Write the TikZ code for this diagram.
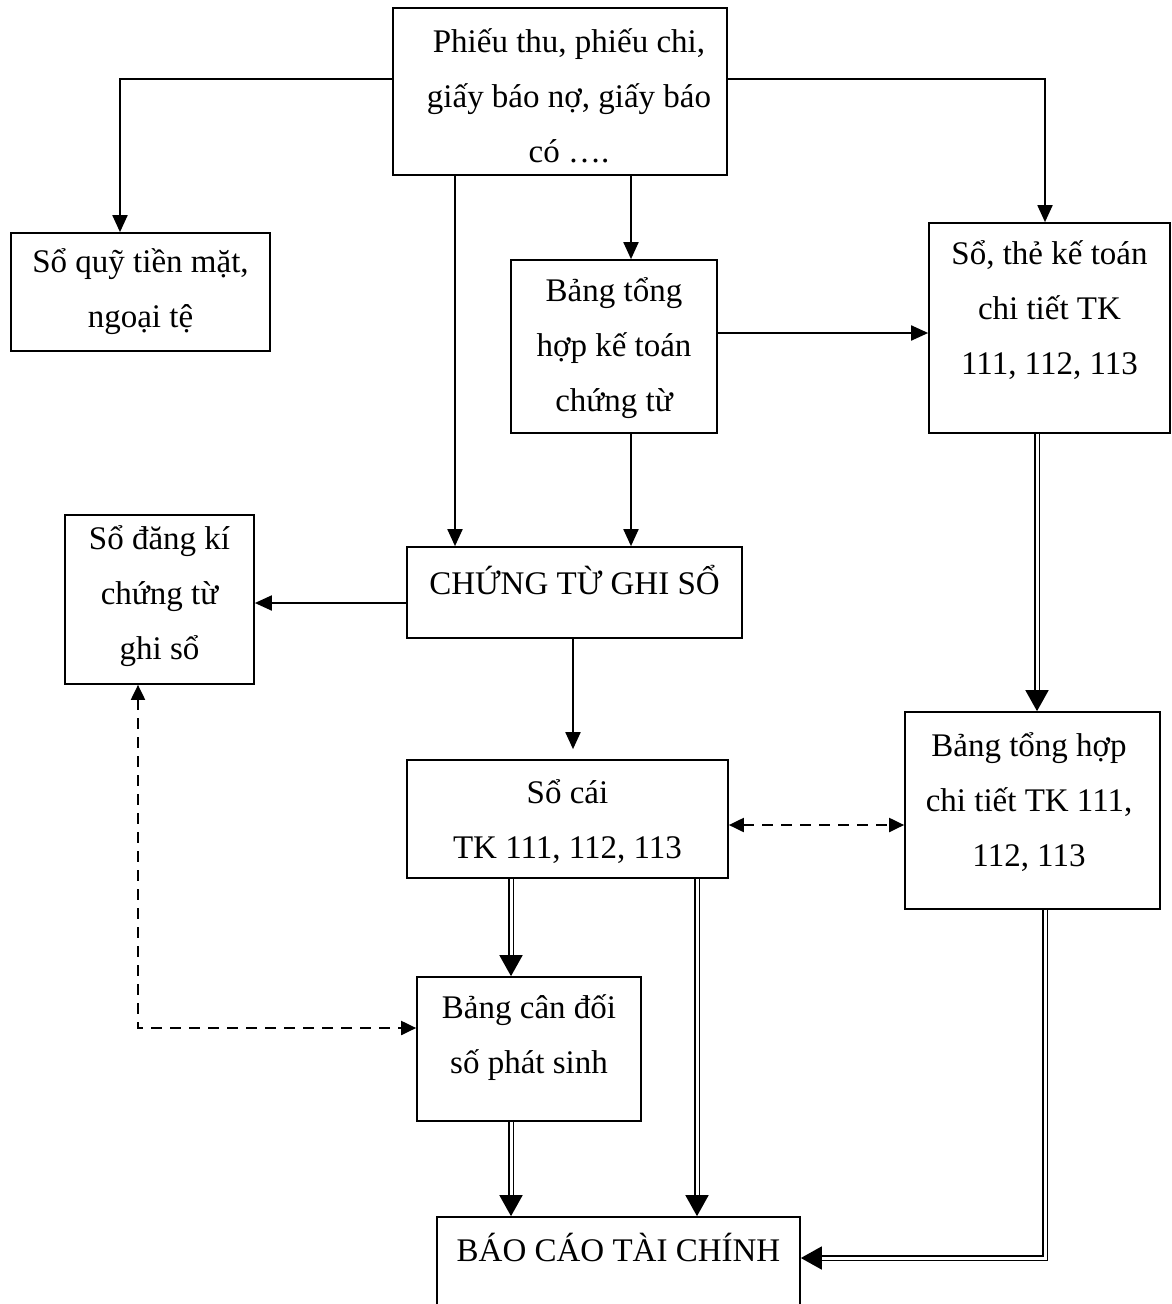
\documentclass[tikz,border=0pt]{standalone}
\usepackage{fontspec}
\setmainfont{Liberation Serif}
\usetikzlibrary{arrows.meta}
\begin{document}
\begin{tikzpicture}[x=1pt,y=-1pt,
  box/.style={draw,line width=1.7pt,inner sep=0pt},
  txt/.style={align=center,inner sep=0pt,font=\fontsize{33}{55}\selectfont},
  arr/.style={line width=1.9pt,-{Triangle[length=17pt,width=15pt]}},
  dbl/.style={double,double distance=3pt,line width=1.7pt,-{Triangle[length=21pt,width=23pt]}},
  dsh/.style={line width=2pt,dash pattern=on 11pt off 8pt,
    {Triangle[length=15pt,width=14pt]}-{Triangle[length=15pt,width=14pt]}}]
\useasboundingbox (0,0) rectangle (1171,1304);

% boxes
\node[box,minimum width=334pt,minimum height=167pt] (src) at (560,91.5) {};
\node[box,minimum width=259pt,minimum height=118pt] (quy) at (140.5,292) {};
\node[box,minimum width=206pt,minimum height=173pt] (bth) at (614,346.5) {};
\node[box,minimum width=241pt,minimum height=210pt] (ste) at (1049.5,328) {};
\node[box,minimum width=189pt,minimum height=169pt] (sdk) at (159.5,599.5) {};
\node[box,minimum width=335pt,minimum height=91pt] (cts) at (574.5,592.5) {};
\node[box,minimum width=321pt,minimum height=118pt] (sc) at (567.5,819) {};
\node[box,minimum width=255pt,minimum height=197pt] (btct) at (1032.5,810.5) {};
\node[box,minimum width=224pt,minimum height=144pt] (bcd) at (529,1049) {};
\node[box,minimum width=363pt,minimum height=113pt] (bctc) at (618.5,1273.5) {};

% texts
\node[txt] (src-t) at (569,96) {Phiếu thu, phiếu chi,\\giấy báo nợ, giấy báo\\có ….};
\node[txt] (quy-t) at (140.5,292) {Sổ quỹ tiền mặt,\\ngoại tệ};
\node[txt] (bth-t) at (614,348) {Bảng tổng\\hợp kế toán\\chứng từ};
\node[txt] (ste-t) at (1049.5,310) {Sổ, thẻ kế toán\\chi tiết TK\\111, 112, 113};
\node[txt] (sdk-t) at (159.5,596) {Sổ đăng kí\\chứng từ\\ghi sổ};
\node[txt] (cts-t) at (574.5,580) {CHỨNG TỪ GHI SỔ};
\node[txt] (sc-t) at (567.5,822) {Sổ cái\\TK 111, 112, 113};
\node[txt] (btct-t) at (1029,802) {Bảng tổng hợp\\chi tiết TK 111,\\112, 113};
\node[txt] (bcd-t) at (529,1038) {Bảng cân đối\\số phát sinh};
\node[txt] (bctc-t) at (618.5,1247) {BÁO CÁO TÀI CHÍNH};

% single arrows
\draw[arr] ([yshift=12.5pt]src.west) -| ([xshift=-20.5pt]quy.north);
\draw[arr] ([yshift=12.5pt]src.east) -| ([xshift=-4.5pt]ste.north);
\draw[arr] ([xshift=-105pt]src.south) -- ([xshift=-119.5pt]cts.north);
\draw[arr] ([xshift=71pt]src.south) -- ([xshift=17pt]bth.north);
\draw[arr] ([yshift=13.5pt]bth.east) -- ([yshift=-5pt]ste.west);
\draw[arr] ([xshift=17pt]bth.south) -- ([xshift=56.5pt]cts.north);
\draw[arr] ([yshift=-10.5pt]cts.west) -- ([yshift=-3.5pt]sdk.east);
\draw[arr,shorten >=10pt] ([xshift=-1.5pt]cts.south) -- ([xshift=5.5pt]sc.north);

% double arrows
\draw[dbl] ([xshift=-12.5pt]ste.south) -- ([xshift=4.5pt]btct.north);
\draw[dbl] ([xshift=-56.5pt]sc.south) -- ([xshift=-18pt]bcd.north);
\draw[dbl] ([xshift=129.5pt]sc.south) -- ([xshift=78.5pt]bctc.north);
\draw[dbl] ([xshift=-18pt]bcd.south) -- ([xshift=-107.5pt]bctc.north);
\draw[dbl] ([xshift=12.5pt]btct.south) |- ([yshift=15.5pt]bctc.east);

% dashed arrows
\draw[dsh] ([yshift=-6pt]sc.east) -- ([yshift=-14.5pt]btct.west);
\draw[dsh] ([xshift=-21.5pt]sdk.south) |- ([yshift=21pt]bcd.west);
\end{tikzpicture}
\end{document}
